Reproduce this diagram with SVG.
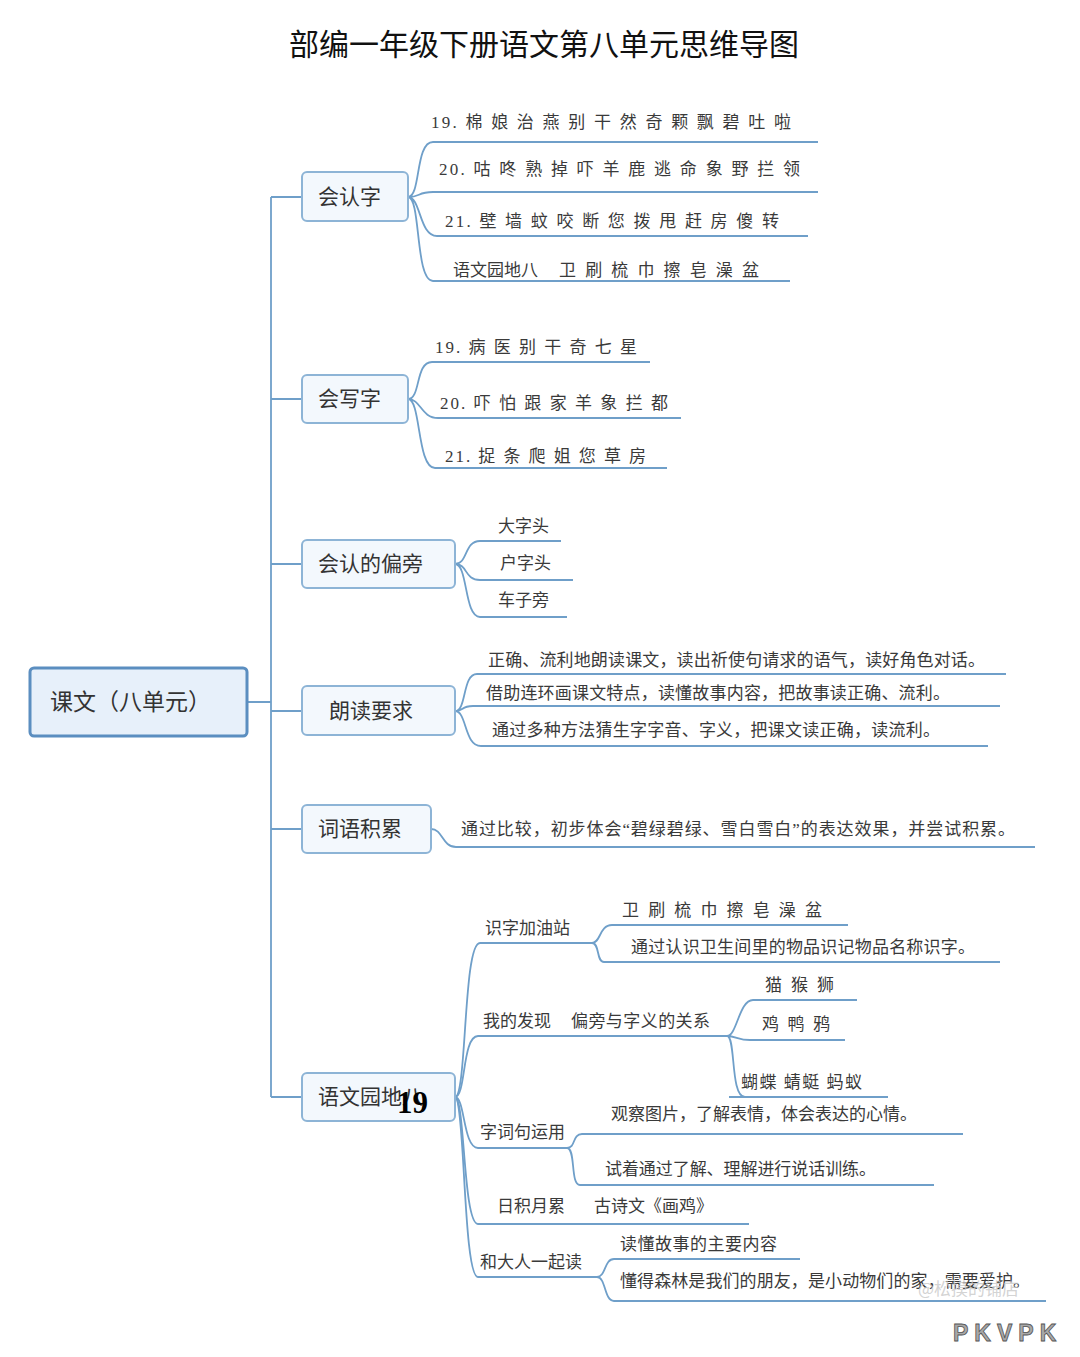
<svg xmlns="http://www.w3.org/2000/svg" width="1080" height="1357" viewBox="0 0 1080 1357">
<style>
text{font-family:"Liberation Serif","Noto Sans CJK SC",serif;fill:#3a3a3a}
.t{font-size:17px}
.n{font-size:21px;fill:#333}
.title{font-size:30px;fill:#111}
.box{fill:#f3f8fd;stroke:#8db4d6;stroke-width:2}
.root{fill:#e7f0fa;stroke:#5b8ec0;stroke-width:3}
.c{fill:none;stroke:#6f9fc9;stroke-width:1.8}
</style>
<rect width="1080" height="1357" fill="#fff"/>
<text class="title" x="544" y="55" text-anchor="middle">部编一年级下册语文第八单元思维导图</text>

<g id="connectors">
<path class="c" d="M271,197V1097M247,702H271M271,197H302M271,399H302M271,564H302M271,711H302M271,829H302M271,1097H302"/>
<path class="c" d="M408,197C421,197 415,142 433,142H818M408,197C421,197 417,192 433,192H818M408,197C421,197 419,236 437,236H808M408,197C421,197 415,281 433,281H790"/>
<path class="c" d="M408,399C421,399 415,362 432,362H650M408,399C421,399 421,418 438,418H681M408,399C421,399 417,468 435,468H667"/>
<path class="c" d="M455,564C468,564 464,541 480,541H561M455,564C468,564 464,580 480,580H573M455,564C468,564 464,617 480,617H567"/>
<path class="c" d="M455,711C467,711 462,674 477,674H1006M455,711C465,711 460,706 473,706H1000M455,711C467,711 464,746 481,746H988"/>
<path class="c" d="M431,829C443,829 442,847 456,847H1035"/>
<path class="c" d="M455,1097C467,1097 463,943 480,943H592M592,943C601,943 599,925 612,925H848M592,943C600,943 596,962 604,962H1000"/>
<path class="c" d="M455,1097C466,1097 462,1036 478,1036H727M727,1036C737,1036 739,1000 753,1000H857M727,1036C736,1036 738,1040 750,1040H845M727,1036C736,1036 730,1097 745,1097H888M729,1097H745"/>
<path class="c" d="M455,1097C465,1097 463,1148 478,1148H567M567,1148C576,1148 572,1134 582,1134H963M567,1148C576,1148 570,1185 580,1185H934"/>
<path class="c" d="M455,1097C465,1097 463,1224 478,1224H749"/>
<path class="c" d="M455,1097C465,1097 463,1277 478,1277H597M597,1277C606,1277 604,1259 614,1259H800M597,1277C606,1277 604,1301 614,1301H1046"/>
</g>

<g id="root">
<rect class="root" x="30" y="668" width="217" height="68" rx="4"/>
<text x="50" y="710" style="font-size:23px;fill:#333">课文（八单元）</text>
</g>

<g id="n-renzi">
<rect class="box" x="302" y="172" width="106" height="49" rx="5"/>
<text class="n" x="318" y="204">会认字</text>
<text class="t" x="431" y="128" textLength="360" lengthAdjust="spacing">19. 棉 娘 治 燕 别 干 然 奇 颗 飘 碧 吐 啦</text>
<text class="t" x="439" y="175" textLength="361" lengthAdjust="spacing">20. 咕 咚 熟 掉 吓 羊 鹿 逃 命 象 野 拦 领</text>
<text class="t" x="445" y="227" textLength="334" lengthAdjust="spacing">21. 壁 墙 蚊 咬 断 您 拨 甩 赶 房 傻 转</text>
<text class="t" x="453" y="276">语文园地八</text>
<text class="t" x="559" y="276" textLength="200" lengthAdjust="spacing">卫 刷 梳 巾 擦 皂 澡 盆</text>
</g>

<g id="n-xiezi">
<rect class="box" x="302" y="375" width="106" height="48" rx="5"/>
<text class="n" x="318" y="406">会写字</text>
<text class="t" x="435" y="353" textLength="202" lengthAdjust="spacing">19. 病 医 别 干 奇 七 星</text>
<text class="t" x="440" y="409" textLength="228" lengthAdjust="spacing">20. 吓 怕 跟 家 羊 象 拦 都</text>
<text class="t" x="445" y="462" textLength="201" lengthAdjust="spacing">21. 捉 条 爬 姐 您 草 房</text>
</g>

<g id="n-pianpang">
<rect class="box" x="302" y="540" width="153" height="48" rx="5"/>
<text class="n" x="318" y="571">会认的偏旁</text>
<text class="t" x="498" y="532">大字头</text>
<text class="t" x="500" y="569">户字头</text>
<text class="t" x="498" y="606">车子旁</text>
</g>

<g id="n-langdu">
<rect class="box" x="302" y="686" width="153" height="49" rx="5"/>
<text class="n" x="329" y="718">朗读要求</text>
<text class="t" x="488" y="666" textLength="497" lengthAdjust="spacing">正确、流利地朗读课文，读出祈使句请求的语气，读好角色对话。</text>
<text class="t" x="486" y="699" textLength="464" lengthAdjust="spacing">借助连环画课文特点，读懂故事内容，把故事读正确、流利。</text>
<text class="t" x="492" y="736" textLength="448" lengthAdjust="spacing">通过多种方法猜生字字音、字义，把课文读正确，读流利。</text>
</g>

<g id="n-ciyu">
<rect class="box" x="302" y="805" width="129" height="48" rx="5"/>
<text class="n" x="318" y="836">词语积累</text>
<text class="t" x="461" y="835" textLength="554" lengthAdjust="spacing">通过比较，初步体会“碧绿碧绿、雪白雪白”的表达效果，并尝试积累。</text>
</g>

<g id="n-yuandi">
<rect class="box" x="302" y="1073" width="153" height="48" rx="5"/>
<text class="n" x="318" y="1104">语文园地八</text>
<text x="397" y="1113" style="font-family:'Liberation Serif',serif;font-size:31px;font-weight:bold;fill:#000">19</text>
<text class="t" x="485" y="934">识字加油站</text>
<text class="t" x="622" y="916" textLength="200" lengthAdjust="spacing">卫 刷 梳 巾 擦 皂 澡 盆</text>
<text class="t" x="631" y="953" textLength="344" lengthAdjust="spacing">通过认识卫生间里的物品识记物品名称识字。</text>
<text class="t" x="483" y="1027">我的发现</text>
<text class="t" x="571" y="1027" textLength="139" lengthAdjust="spacing">偏旁与字义的关系</text>
<text class="t" x="765" y="991" textLength="69" lengthAdjust="spacing">猫 猴 狮</text>
<text class="t" x="762" y="1030" textLength="68" lengthAdjust="spacing">鸡 鸭 鸦</text>
<text class="t" x="741" y="1088" textLength="121" lengthAdjust="spacing">蝴蝶 蜻蜓 蚂蚁</text>
<text class="t" x="480" y="1138">字词句运用</text>
<text class="t" x="611" y="1120" textLength="306" lengthAdjust="spacing">观察图片，了解表情，体会表达的心情。</text>
<text class="t" x="605" y="1175" textLength="271" lengthAdjust="spacing">试着通过了解、理解进行说话训练。</text>
<text class="t" x="497" y="1212">日积月累</text>
<text class="t" x="594" y="1212">古诗文《画鸡》</text>
<text class="t" x="480" y="1268">和大人一起读</text>
<text class="t" x="620" y="1250" textLength="157" lengthAdjust="spacing">读懂故事的主要内容</text>
<text class="t" x="620" y="1287" textLength="410" lengthAdjust="spacing">懂得森林是我们的朋友，是小动物们的家，需要爱护。</text>
</g>

<text x="918" y="1295" style="font-family:'Noto Sans CJK SC',sans-serif;font-size:17px;fill:#c8c8c8;fill-opacity:0.8">@松摸的铺店</text>
<text x="953" y="1341" style="font-family:'Liberation Sans',sans-serif;font-size:23px;font-weight:bold;fill:#a8a8a8;stroke:#555;stroke-width:0.8;letter-spacing:6px">PKVPK</text>
</svg>
